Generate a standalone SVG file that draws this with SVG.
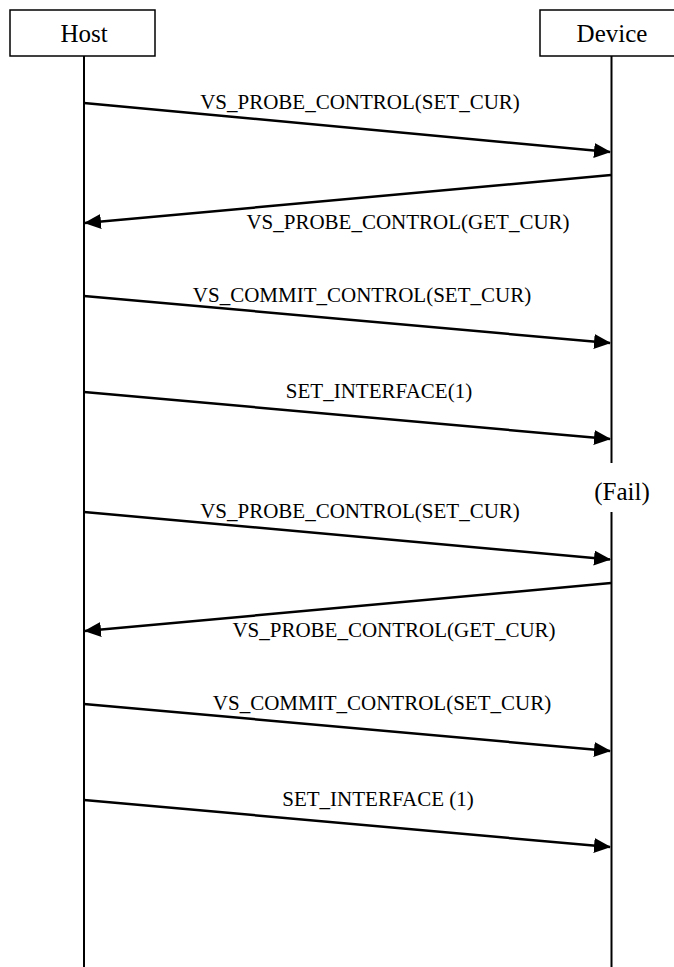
<svg xmlns="http://www.w3.org/2000/svg" width="674" height="967" viewBox="0 0 674 967">
<style>
text{font-family:"Liberation Serif","Times New Roman",serif;fill:#000}
.lbl{font-size:21px;text-anchor:middle}
.hdr{font-size:25px;text-anchor:middle}
.box{fill:#fff;stroke:#000;stroke-width:1.5}
.life{stroke:#000;stroke-width:2;fill:none}
.msg{stroke:#000;stroke-width:2.5;fill:none;marker-end:url(#ah)}
</style>
<defs>
<marker id="ah" markerUnits="userSpaceOnUse" markerWidth="17" markerHeight="15" refX="16" refY="7.5" orient="auto">
<path d="M0,0 L17,7.5 L0,15 Z" fill="#000"/>
</marker>
</defs>
<rect width="674" height="967" fill="#fff"/>
<g id="host">
<rect class="box" x="10" y="10" width="145" height="46"/>
<text class="hdr" x="84" y="42">Host</text>
<line class="life" x1="84" y1="56" x2="84" y2="967"/>
</g>
<g id="device">
<rect class="box" x="540" y="10" width="140" height="46"/>
<text class="hdr" x="612" y="42">Device</text>
<line class="life" x1="611.5" y1="56" x2="611.5" y2="463"/>
<line class="life" x1="611.5" y1="512" x2="611.5" y2="967"/>
<text class="hdr" x="622" y="500">(Fail)</text>
</g>
<g id="connectors">
<line class="msg" x1="84" y1="103" x2="610" y2="152"/>
<line class="msg" x1="611" y1="175" x2="85" y2="223"/>
<line class="msg" x1="84" y1="296" x2="610" y2="343"/>
<line class="msg" x1="84" y1="392" x2="610" y2="439"/>
<line class="msg" x1="84" y1="512" x2="610" y2="559.5"/>
<line class="msg" x1="611" y1="583" x2="85" y2="631"/>
<line class="msg" x1="84" y1="704" x2="610" y2="751"/>
<line class="msg" x1="84" y1="800" x2="610" y2="847"/>
</g>
<g id="labels">
<text class="lbl" x="360" y="109">VS_PROBE_CONTROL(SET_CUR)</text>
<text class="lbl" x="408" y="229">VS_PROBE_CONTROL(GET_CUR)</text>
<text class="lbl" x="362" y="302">VS_COMMIT_CONTROL(SET_CUR)</text>
<text class="lbl" x="379" y="398">SET_INTERFACE(1)</text>
<text class="lbl" x="360" y="518">VS_PROBE_CONTROL(SET_CUR)</text>
<text class="lbl" x="394" y="637">VS_PROBE_CONTROL(GET_CUR)</text>
<text class="lbl" x="382" y="710">VS_COMMIT_CONTROL(SET_CUR)</text>
<text class="lbl" x="378" y="806">SET_INTERFACE (1)</text>
</g>
</svg>
